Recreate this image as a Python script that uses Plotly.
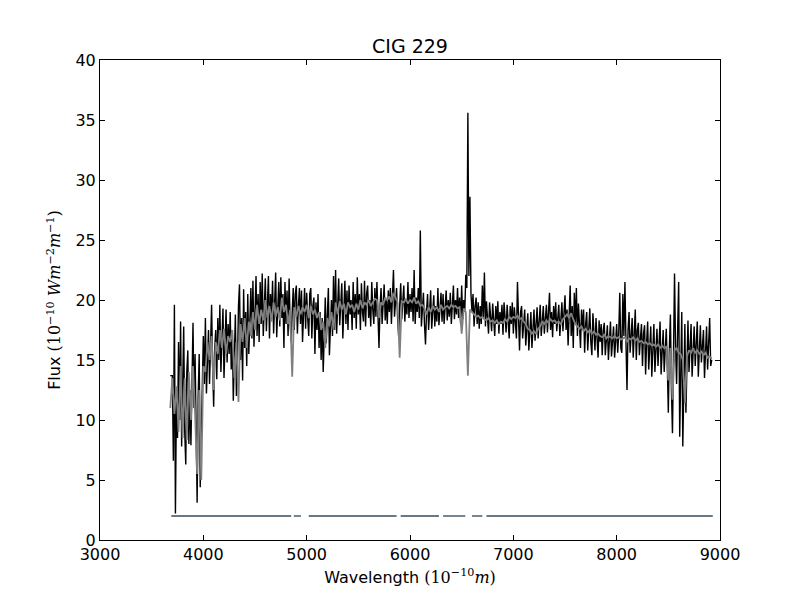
import plotly.graph_objects as go

# Observed spectrum of CIG 229, sampled every 10 A from 3680 A
wave_obs = list(range(3680, 8930, 10))
flux_obs = [
    13.7, 13.7, 13.7, 6.6, 19.6, 2.2, 12.0, 8.5, 16.5, 10.0, 18.2, 7.8, 14.5, 17.8, 9.0, 6.3, 14.0, 15.8, 8.0, 12.5,
    7.9, 15.0, 18.1, 11.0, 15.5, 9.5, 3.1, 12.0, 15.5, 4.4, 9.0, 14.0, 17.0, 13.0, 18.5, 12.2, 16.0, 17.5, 13.0, 18.0,
    19.6, 14.5, 11.1, 16.0, 17.5, 13.4, 18.5, 15.0, 19.6, 14.0, 17.0, 19.3, 13.5, 16.5, 19.2, 14.8, 18.0, 15.5, 19.0, 14.2,
    17.5, 11.6, 16.0, 18.8, 12.0, 14.5, 19.5, 21.3, 15.0, 18.5, 13.3, 20.9, 16.0, 19.0, 14.5, 20.5, 15.5, 18.5, 21.0, 16.8,
    21.6, 16.1, 19.5, 22.0, 17.0, 20.5, 16.5, 21.5, 18.0, 22.2, 17.0, 20.0, 21.8, 17.4, 19.5, 22.0, 16.8, 20.5, 18.5, 21.6,
    17.2, 20.0, 22.3, 16.9, 19.0, 21.5, 17.8, 21.9, 18.5, 20.5, 16.0, 21.5, 18.0, 20.8, 17.0, 21.8, 18.2, 16.5, 19.0, 21.0,
    17.5, 20.5, 21.2, 17.2, 19.5, 21.0, 18.0, 20.8, 16.5, 19.8, 21.0, 17.6, 20.6, 18.5, 17.0, 20.5, 21.0, 16.8, 19.5, 20.2,
    15.5, 19.8, 17.5, 20.5, 16.0, 19.0, 15.0, 18.5, 14.0, 17.0, 20.2, 16.4, 19.5, 21.0, 15.4, 18.5, 20.0, 17.0, 22.0, 17.5,
    22.5, 17.2, 20.5, 21.8, 17.9, 20.0, 21.4, 16.8, 19.5, 21.6, 18.0, 20.8, 17.5, 21.2, 18.8, 20.0, 17.5, 21.5, 18.5, 20.5,
    17.6, 21.9, 18.8, 20.5, 17.5, 21.4, 19.0, 18.2, 21.6, 17.8, 20.5, 21.2, 18.5, 20.0, 17.8, 21.5, 19.2, 18.0, 21.0, 18.6,
    21.5, 18.5, 16.0, 19.5, 21.0, 18.0, 20.5, 21.3, 18.3, 20.0, 18.0, 20.8, 19.0, 21.0, 18.0, 20.5, 22.5, 18.6, 20.0, 21.0,
    18.5, 17.0, 19.5, 21.4, 18.4, 20.5, 21.2, 18.2, 20.0, 18.8, 21.5, 18.5, 20.5, 19.0, 21.0, 18.2, 22.5, 18.0, 20.2, 19.0,
    21.0, 18.5, 25.8, 17.8, 19.5, 20.6, 18.0, 16.3, 19.0, 20.5, 17.5, 19.5, 20.8, 17.6, 19.0, 20.4, 17.8, 19.5, 18.2, 21.0,
    17.9, 19.5, 20.6, 18.2, 20.5, 18.0, 19.2, 20.8, 18.3, 20.0, 18.6, 20.6, 18.0, 19.5, 21.2, 18.4, 20.0, 18.8, 21.0, 18.5,
    20.2, 18.0, 21.2, 18.4, 20.0, 19.0, 22.1, 21.0, 35.6, 22.0, 28.6, 20.5, 19.0, 20.5, 17.8, 19.5, 20.2, 18.0, 19.8, 17.6,
    19.5, 18.0, 21.2, 18.5, 22.3, 17.8, 19.9, 18.5, 17.2, 19.8, 18.2, 17.4, 19.7, 18.5, 17.0, 19.5, 18.0, 19.9, 17.2, 19.0,
    18.0, 19.6, 17.1, 19.8, 18.3, 17.3, 19.6, 18.5, 16.8, 19.5, 18.0, 19.8, 17.2, 19.4, 18.0, 16.8, 21.5, 17.5, 15.8, 19.0,
    19.5, 16.8, 18.5, 19.2, 16.2, 18.0, 18.9, 15.8, 17.5, 19.0, 16.0, 18.2, 19.2, 16.6, 18.0, 19.4, 16.8, 18.5, 19.6, 17.0,
    18.5, 19.5, 17.2, 18.6, 19.6, 17.3, 18.8, 20.6, 17.5, 19.0, 16.9, 19.5, 18.0, 19.8, 17.4, 18.8, 19.6, 17.0, 18.5, 19.8,
    17.4, 19.0, 20.4, 17.5, 19.2, 16.2, 20.0, 21.2, 17.0, 19.5, 16.0, 20.6, 18.0, 21.0, 17.0, 19.7, 18.0, 16.0, 19.2, 17.5,
    19.2, 15.6, 18.0, 19.0, 15.8, 17.5, 19.3, 16.5, 15.4, 18.9, 17.0, 15.8, 18.5, 17.2, 15.2, 18.3, 16.5, 18.0, 15.4, 17.5,
    18.1, 15.4, 17.0, 17.9, 15.0, 16.5, 18.2, 15.3, 17.0, 17.8, 15.2, 16.8, 18.0, 15.6, 17.2, 20.6, 16.0, 15.6, 20.5, 17.0,
    21.5, 16.5, 12.5, 17.5, 19.0, 15.6, 17.8, 18.5, 15.2, 17.0, 19.2, 15.0, 17.5, 18.1, 15.4, 16.8, 18.0, 14.5, 17.2, 17.9,
    13.8, 16.5, 18.2, 14.2, 17.0, 17.8, 13.6, 16.5, 18.0, 14.0, 16.8, 17.6, 14.5, 16.2, 18.2, 13.8, 16.0, 17.5, 14.0, 16.5,
    17.6, 14.5, 10.6, 16.0, 18.8, 12.5, 8.9, 15.5, 22.2, 16.0, 13.0, 17.5, 21.5, 8.6, 16.5, 19.0, 7.8, 14.0, 18.0, 10.6,
    15.5, 18.3, 14.0, 16.5, 18.0, 13.6, 16.0, 17.8, 14.5, 16.8, 18.2, 13.6, 15.5, 17.9, 14.8, 16.5, 17.5, 13.5, 16.0, 17.8,
    14.2, 16.5, 18.5, 14.5, 15.0,
]

# Fitted model (grey), sampled every 20 A from 3680 A
wave_fit = list(range(3680, 8940, 20))
flux_fit = [
    11.0, 13.5, 10.5, 12.8, 9.0, 14.5, 8.5, 13.5, 8.3, 14.0,
    10.0, 14.5, 10.5, 5.5, 12.5, 5.0, 14.5, 14.0, 16.5, 15.0,
    17.0, 12.5, 16.5, 15.5, 17.5, 16.0, 17.6, 15.5, 17.0, 16.5,
    17.5, 13.5, 16.5, 11.5, 18.0, 16.5, 18.5, 16.0, 18.2, 17.0,
    19.0, 17.5, 19.6, 18.0, 19.2, 18.3, 20.0, 18.5, 19.5, 18.2,
    19.8, 18.6, 19.4, 18.3, 20.2, 19.0, 19.6, 18.0, 19.2, 13.6,
    19.4, 18.6, 19.5, 18.8, 19.4, 19.0, 19.6, 18.5, 19.5, 18.8,
    19.2, 18.5, 19.0, 17.5, 18.2, 16.0, 18.5, 17.8, 19.0, 17.5,
    19.8, 18.8, 19.9, 19.2, 19.7, 18.8, 19.8, 19.4, 19.6, 19.0,
    19.7, 19.2, 20.0, 19.3, 19.8, 19.6, 20.0, 19.5, 19.8, 20.1,
    20.0, 18.5, 19.8, 19.6, 20.2, 20.0, 20.3, 19.8, 20.6, 20.2,
    19.8, 15.2, 19.9, 19.8, 20.1, 19.7, 20.0, 19.8, 20.2, 19.7,
    19.9, 19.5, 19.6, 19.3, 18.8, 19.4, 19.0, 19.5, 19.2, 19.4,
    19.0, 19.6, 19.2, 19.4, 19.5, 19.3, 19.6, 19.4, 19.5, 19.3,
    19.4, 17.2, 19.3, 19.0, 13.7, 19.2, 19.0, 18.8, 18.6, 18.7,
    18.5, 18.6, 18.4, 18.3, 18.5, 18.2, 18.3, 18.1, 18.3, 18.0,
    18.2, 18.1, 18.4, 18.2, 18.6, 18.4, 18.6, 18.5, 18.7, 18.4,
    18.5, 18.2, 18.0, 17.6, 17.5, 17.2, 17.4, 17.2, 17.6, 17.8,
    18.2, 18.0, 18.3, 18.1, 18.4, 18.2, 18.3, 18.1, 18.2, 18.0,
    18.4, 18.6, 18.8, 18.5, 18.9, 18.4, 18.0, 17.8, 17.6, 17.8,
    17.4, 17.6, 17.3, 17.5, 17.2, 17.4, 17.1, 17.2, 17.0, 16.9,
    17.1, 16.8, 17.0, 16.9, 16.8, 17.0, 16.8, 16.9, 16.7, 16.8,
    16.9, 16.5, 16.8, 16.7, 16.9, 16.6, 16.8, 16.5, 16.6, 16.4,
    16.5, 16.3, 16.4, 16.2, 16.3, 16.1, 16.3, 16.0, 16.2, 16.0,
    16.1, 13.3, 16.0, 11.7, 15.8, 16.0, 15.6, 15.5, 15.0, 11.4,
    15.3, 15.8, 15.6, 16.0, 15.6, 15.8, 15.5, 15.7, 15.4, 15.6,
    15.2, 15.3, 15.1,
]

# Good-pixel mask segments, drawn at a constant level
mask_start = [3690, 4875, 5020, 5910, 6320, 6600, 6740]
mask_end = [4850, 4945, 5870, 6280, 6535, 6700, 8930]
mask_level = 2.0

mask_x, mask_y = [], []
for a, b in zip(mask_start, mask_end):
    mask_x += [a, b, None]
    mask_y += [mask_level, mask_level, None]

fig = go.Figure()
fig.add_trace(go.Scatter(x=wave_obs, y=flux_obs, mode='lines',
                         line=dict(color='black', width=1.4)))
fig.add_trace(go.Scatter(x=wave_fit, y=flux_fit, mode='lines',
                         line=dict(color='#808080', width=1.8)))
fig.add_trace(go.Scatter(x=mask_x, y=mask_y, mode='lines',
                         line=dict(color='#687884', width=1.8)))

axis_style = dict(showline=True, linecolor='black', linewidth=1,
                  mirror='allticks', ticks='inside', ticklen=5,
                  tickcolor='black', showgrid=False, zeroline=False,
                  automargin=False,
                  tickfont=dict(size=16, color='black'))

fig.update_xaxes(range=[3000, 9000], tickvals=list(range(3000, 9001, 1000)),
                 title=dict(text="Wavelength <span style=\"font-family:'DejaVu Serif'\">(10<sup>−10</sup><i>m</i>)</span>",
                            font=dict(size=16, color='black'), standoff=8),
                 **axis_style)
fig.update_yaxes(range=[0, 40], tickvals=list(range(0, 41, 5)),
                 title=dict(text="Flux <span style=\"font-family:'DejaVu Serif'\">(10<sup>−10</sup> <i>Wm</i><sup>−2</sup><i>m</i><sup>−1</sup>)</span>",
                            font=dict(size=16, color='black'), standoff=10),
                 **axis_style)

# the page adds an 8 px body margin, so the margins are trimmed by 8 px
fig.update_layout(width=800, height=600,
                  margin=dict(l=92, r=88, t=52, b=68),
                  paper_bgcolor='white', plot_bgcolor='white',
                  showlegend=False,
                  font=dict(family='DejaVu Sans', color='black'),
                  title=dict(text='CIG 229', x=0.5, xref='paper',
                             y=1 - 38 / 600, yref='container',
                             yanchor='middle',
                             font=dict(size=19, color='black')))

fig.write_html("out.html")
